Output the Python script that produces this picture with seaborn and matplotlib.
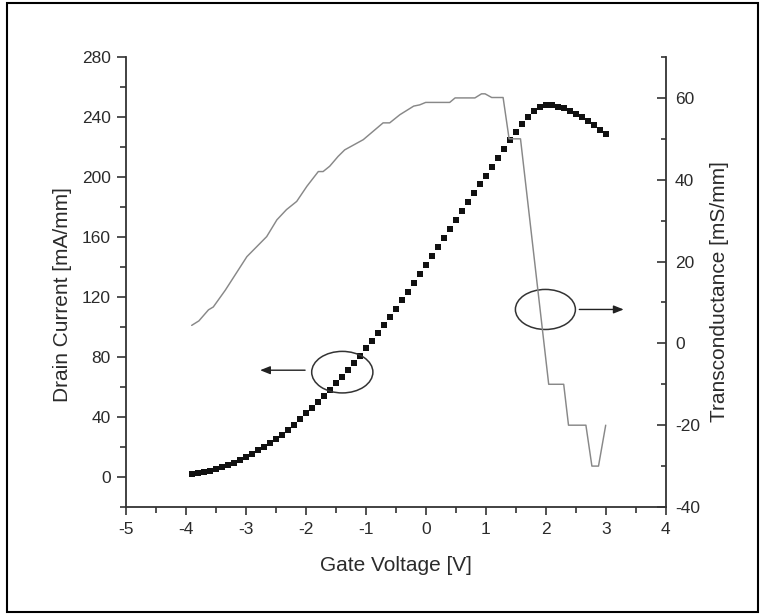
import matplotlib
matplotlib.use("Agg")
import matplotlib.pyplot as plt
import seaborn as sns
from matplotlib.patches import Ellipse, Rectangle
from matplotlib.ticker import MultipleLocator

# Drain current (left axis), sampled every 0.1 V
gate_voltage = [
    -3.9, -3.8, -3.7, -3.6, -3.5, -3.4, -3.3, -3.2, -3.1, -3.0,
    -2.9, -2.8, -2.7, -2.6, -2.5, -2.4, -2.3, -2.2, -2.1, -2.0,
    -1.9, -1.8, -1.7, -1.6, -1.5, -1.4, -1.3, -1.2, -1.1, -1.0,
    -0.9, -0.8, -0.7, -0.6, -0.5, -0.4, -0.3, -0.2, -0.1, 0.0,
    0.1, 0.2, 0.3, 0.4, 0.5, 0.6, 0.7, 0.8, 0.9, 1.0,
    1.1, 1.2, 1.3, 1.4, 1.5, 1.6, 1.7, 1.8, 1.9, 2.0,
    2.1, 2.2, 2.3, 2.4, 2.5, 2.6, 2.7, 2.8, 2.9, 3.0,
]
drain_current = [
    2.2, 2.6, 3.2, 4.1, 5.2, 6.5, 8.0, 9.6, 11.4, 13.3,
    15.4, 17.7, 20.1, 22.6, 25.3, 28.2, 31.5, 35.0, 38.8, 42.6,
    46.3, 50.2, 54.2, 58.3, 62.6, 67.0, 71.5, 76.2, 81.0, 85.9,
    90.9, 96.0, 101.2, 106.6, 112.2, 117.9, 123.6, 129.5, 135.4, 141.3,
    147.3, 153.3, 159.3, 165.3, 171.3, 177.3, 183.3, 189.2, 195.1, 201.0,
    206.8, 212.6, 218.8, 224.8, 230.0, 235.2, 239.8, 243.8, 246.5, 248.0,
    248.0, 246.5, 246.0, 244.0, 242.0, 240.0, 237.5, 235.0, 231.5, 229.0,
]

# Transconductance (right axis)
gm_voltage = [
    -3.9, -3.78, -3.62, -3.54, -3.34, -2.98, -2.65, -2.48, -2.32, -2.15,
    -1.98, -1.79, -1.71, -1.6, -1.46, -1.35, -1.04, -0.71, -0.6, -0.43,
    -0.2, -0.1, 0.0, 0.4, 0.49, 0.82, 0.93, 0.99, 1.1, 1.29,
    1.39, 1.58, 2.05, 2.3, 2.38, 2.67, 2.77, 2.88, 3.0,
]
transconductance = [
    4.4, 5.5, 8.2, 8.9, 13.0, 21.2, 26.1, 30.2, 32.7, 34.7,
    38.4, 42.0, 42.0, 43.3, 45.7, 47.3, 49.8, 53.9, 53.9, 55.9,
    58.0, 58.3, 58.9, 58.9, 60.0, 60.0, 61.0, 61.0, 60.1, 60.1,
    50.0, 50.0, -10.0, -10.0, -20.0, -20.0, -30.0, -30.0, -20.0,
]

x_label = "Gate Voltage [V]"
left_label = "Drain Current [mA/mm]"
right_label = "Transconductance [mS/mm]"

sns.set_style("ticks")
plt.rcParams["font.family"] = ["Liberation Sans", "DejaVu Sans"]
plt.rcParams["axes.unicode_minus"] = False

ink = "#2b2b2b"
fig = plt.figure(figsize=(7.65, 6.15), dpi=100)
fig.patch.set_facecolor("white")
ax = fig.add_axes([0.1643, 0.1756, 0.7059, 0.7317])
ax2 = ax.twinx()

sns.scatterplot(x=gate_voltage, y=drain_current, ax=ax, marker="s", s=19,
                color="#111111", linewidth=0, zorder=3)
sns.lineplot(x=gm_voltage, y=transconductance, ax=ax2, sort=False,
             estimator=None, color="#888888", linewidth=1.05)

ax.set_xlim(-5, 4)
ax.set_ylim(-20, 280)
ax2.set_ylim(-40, 70)

ax.xaxis.set_major_locator(MultipleLocator(1))
ax.xaxis.set_minor_locator(MultipleLocator(0.5))
ax.yaxis.set_major_locator(MultipleLocator(40))
ax.yaxis.set_minor_locator(MultipleLocator(20))
ax2.yaxis.set_major_locator(MultipleLocator(20))
ax2.yaxis.set_minor_locator(MultipleLocator(10))

for a in (ax, ax2):
    for side, sp in a.spines.items():
        sp.set_color("#333333")
        sp.set_linewidth(1.3)
ax.spines["top"].set_visible(False)
ax.spines["right"].set_visible(False)
for side in ("top", "left", "bottom"):
    ax2.spines[side].set_visible(False)

ax.tick_params(axis="y", which="major", direction="out", length=6.8, width=1.2,
               pad=4.0, labelsize=12.5, color="#333333", labelcolor=ink)
ax.tick_params(axis="y", which="minor", direction="out", length=4.3, width=1.2,
               color="#333333")
ax.tick_params(axis="x", which="major", direction="out", length=6.0, width=1.2,
               pad=5.0, labelsize=12.5, color="#333333", labelcolor=ink)
ax.tick_params(axis="x", which="minor", direction="out", length=4.0, width=1.2,
               color="#333333")
ax2.tick_params(axis="y", which="major", direction="in", length=6.5, width=1.2,
                pad=6.7, labelsize=12.5, color="#333333", labelcolor=ink)
ax2.tick_params(axis="y", which="minor", direction="in", length=3.4, width=1.2,
                color="#333333")

ax.set_xlabel(x_label, fontsize=15, color=ink, va="center")
ax.xaxis.set_label_coords(0.5, -0.129)
ax.set_ylabel(left_label, fontsize=15, color=ink, va="center", ha="center")
ax.yaxis.set_label_coords(-0.117, 0.471)
ax2.set_ylabel(right_label, fontsize=15, color=ink, va="center", ha="center")
ax2.yaxis.set_label_coords(1.0996, 0.478)

# Circles marking which curve belongs to which axis, with pointer arrows
ax.add_patch(Ellipse((-1.39, 69.9), width=1.02, height=27.7, fill=False,
                     lw=1.1, ec="#333333", zorder=4))
ax.add_patch(Ellipse((1.995, 111.7), width=1.0, height=26.7, fill=False,
                     lw=1.1, ec="#333333", zorder=4))
arrow = dict(arrowstyle="-|>,head_length=0.5,head_width=0.2", color="#222222",
             lw=1.0, shrinkA=0, shrinkB=0, mutation_scale=12)
ax.annotate("", xy=(-2.76, 71.2), xytext=(-2.01, 71.2), arrowprops=arrow)
ax.annotate("", xy=(3.30, 111.7), xytext=(2.56, 111.7), arrowprops=arrow)

# Frame around the whole figure
fig.patches.append(Rectangle((7 / 765, 3 / 615), (757.5 - 7) / 765, (612 - 3) / 615,
                             transform=fig.transFigure, fill=False,
                             lw=1.5, ec="black"))

fig.savefig("out.png", dpi=100, facecolor="white")
